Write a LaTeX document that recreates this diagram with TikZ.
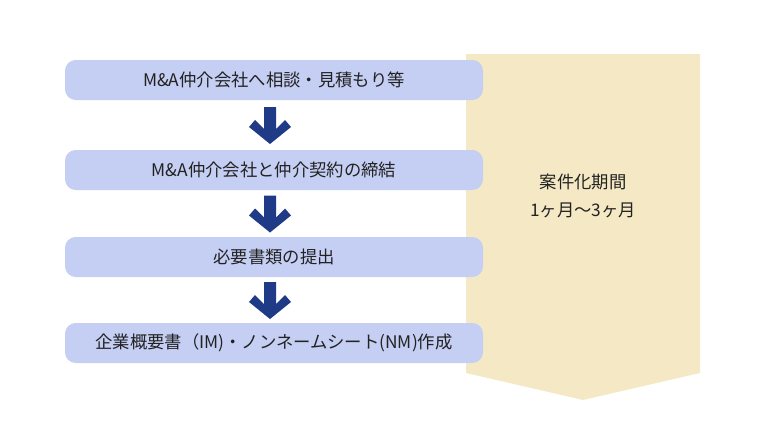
\documentclass[tikz,border=0pt]{standalone}
\usepackage{fontspec}
\setmainfont{Noto Sans CJK JP}
\usetikzlibrary{calc}

\definecolor{stepfill}{HTML}{C5CEF3}
\definecolor{periodfill}{HTML}{F5E9C5}
\definecolor{arrowblue}{HTML}{1F3A87}
\definecolor{textgray}{HTML}{222222}

\tikzset{
  stepbox/.style={fill=stepfill, rounded corners=8pt, minimum width=313.5pt,
    minimum height=30pt, inner sep=0pt, text=textgray,
    font=\fontsize{13}{16}\selectfont},
  downarrow/.pic={
    \fill[arrowblue] (-6,-18) -- (6,-18) -- (6,4) -- (15,-5) -- (21,2)
      -- (0,19) -- (-21,2) -- (-15,-5) -- (-6,4) -- cycle;
  }
}

\begin{document}
\begin{tikzpicture}[x=0.75pt, y=-0.75pt]
  \useasboundingbox (0,0) rectangle (760,432);

  % 案件化期間の帯
  \fill[periodfill] (466,54) -- (700,54) -- (700,373) -- (583,400) -- (466,373) -- cycle;
  \node[text=textgray, align=center, font=\fontsize{13}{21}\selectfont] (period) at (583,196)
    {案件化期間\\1ヶ月〜3ヶ月};

  % 手順
  \node[stepbox] (s1) at (274,80) {M\&A仲介会社へ相談・見積もり等};
  \node[stepbox] (s2) at (274,170) {M\&A仲介会社と仲介契約の締結};
  \node[stepbox] (s3) at (274,257) {必要書類の提出};
  \node[stepbox] (s4) at (274,343) {企業概要書（IM)・ノンネームシート(NM)作成};

  % 矢印
  \foreach \a/\b in {s1/s2, s2/s3, s3/s4} {
    \pic at ($(\a.south)!0.5!(\b.north)+(-4,0)$) {downarrow};
  }
\end{tikzpicture}
\end{document}
